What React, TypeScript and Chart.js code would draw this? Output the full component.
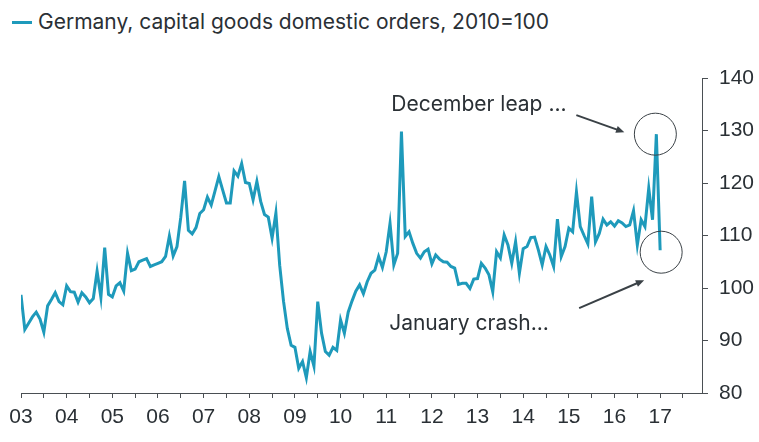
import React, { useEffect, useRef } from 'react';
import { Chart, registerables } from 'chart.js';

Chart.register(...registerables);

// Monthly values, Germany capital goods domestic orders (2010=100), Jan 2003 .. Jan 2017
const y2003 = [98.7, 92.1, 93.3, 94.5, 95.4, 94.1, 91.6, 96.6, 97.8, 99.1, 97.4, 96.8];
const y2004 = [100.4, 99.3, 99.2, 97.3, 99.1, 98.3, 97.2, 98.0, 103.2, 98.2, 107.7, 98.8];
const y2005 = [98.3, 100.4, 101.0, 99.4, 106.6, 103.3, 103.6, 105.0, 105.3, 105.6, 104.1, 104.4];
const y2006 = [104.7, 105.0, 106.0, 109.9, 106.1, 107.9, 113.5, 120.4, 111.0, 110.3, 111.5, 114.2];
const y2007 = [114.9, 117.3, 115.8, 118.5, 121.2, 118.7, 116.2, 116.2, 122.3, 121.3, 123.7, 120.1];
const y2008 = [119.9, 116.8, 120.3, 116.5, 114.0, 113.5, 109.5, 114.3, 104.3, 97.5, 92.3, 89.1];
const y2009 = [88.7, 84.7, 86.0, 82.9, 87.9, 85.1, 97.4, 91.4, 87.9, 87.2, 88.7, 88.1];
const y2010 = [93.9, 91.4, 95.4, 97.5, 99.4, 100.6, 98.9, 101.2, 102.8, 103.4, 106.0, 103.9];
const y2011 = [106.9, 112.3, 104.4, 106.6, 129.8, 109.8, 110.7, 108.5, 106.6, 105.7, 106.9, 107.4];
const y2012 = [104.6, 106.3, 105.5, 105.0, 104.9, 104.1, 103.8, 100.7, 100.9, 100.9, 99.9, 101.7];
const y2013 = [101.8, 104.7, 103.8, 102.5, 99.3, 106.9, 105.7, 110.1, 108.2, 104.7, 108.8, 102.8];
const y2014 = [107.5, 107.9, 109.6, 109.7, 107.2, 104.4, 107.9, 106.3, 104.1, 113.1, 106.0, 107.9];
const y2015 = [111.4, 110.7, 118.3, 111.7, 110.0, 108.4, 117.4, 108.8, 110.4, 113.1, 112.0, 112.6];
const y2016 = [111.8, 112.8, 112.4, 111.7, 112.0, 114.7, 108.2, 113.0, 111.7, 119.0, 113.0, 129.3];
const y2017 = [107.2];

const values = [
  ...y2003, ...y2004, ...y2005, ...y2006, ...y2007, ...y2008, ...y2009, ...y2010,
  ...y2011, ...y2012, ...y2013, ...y2014, ...y2015, ...y2016, ...y2017,
];

const yearLabels = ['03', '04', '05', '06', '07', '08', '09', '10', '11', '12', '13', '14', '15', '16', '17'];
const yTicks = [80, 90, 100, 110, 120, 130, 140];

const TITLE = 'Germany, capital goods domestic orders, 2010=100';
const LEAP = 'December leap ...';
const CRASH = 'January crash...';

const LINE = '#1e9abb';
const TEXT = '#2a3035';
const AXIS = '#4a4f53';
const TEXT_FONT = 'Inter, "Open Sans", sans-serif';
const TICK_FONT = 'Liberation Sans, Arial, sans-serif';

function arrow(ctx: CanvasRenderingContext2D, x1: number, y1: number, x2: number, y2: number) {
  const a = Math.atan2(y2 - y1, x2 - x1);
  const head = 9;
  ctx.beginPath();
  ctx.moveTo(x1, y1);
  ctx.lineTo(x2 - Math.cos(a) * 4, y2 - Math.sin(a) * 4);
  ctx.stroke();
  ctx.beginPath();
  ctx.moveTo(x2, y2);
  ctx.lineTo(x2 - head * Math.cos(a - 0.4), y2 - head * Math.sin(a - 0.4));
  ctx.lineTo(x2 - head * Math.cos(a + 0.4), y2 - head * Math.sin(a + 0.4));
  ctx.closePath();
  ctx.fill();
}

const annotatePlugin = {
  id: 'annotate',
  afterDatasetsDraw(chart: any) {
    const { ctx, scales } = chart;
    const x = scales.x;
    const y = scales.y;
    const n = values.length;
    const dx = x.getPixelForValue(n - 2);
    const dy = y.getPixelForValue(values[n - 2]);
    const jx = x.getPixelForValue(n - 1);
    const jy = y.getPixelForValue(values[n - 1]);
    ctx.save();
    ctx.strokeStyle = '#3a4146';
    ctx.fillStyle = '#3a4146';
    ctx.lineWidth = 1;
    ctx.beginPath();
    ctx.arc(dx - 1, dy, 21, 0, Math.PI * 2);
    ctx.stroke();
    ctx.beginPath();
    ctx.arc(jx + 1, jy + 2, 21, 0, Math.PI * 2);
    ctx.stroke();
    ctx.lineWidth = 2;
    arrow(ctx, dx - 80, dy - 19, dx - 32, dy - 2);
    arrow(ctx, jx - 81, jy + 58, jx - 16, jy + 30);
    ctx.fillStyle = TEXT;
    ctx.font = '21px ' + TEXT_FONT;
    ctx.textAlign = 'left';
    ctx.textBaseline = 'alphabetic';
    ctx.fillText(LEAP, dx - 265, dy - 23);
    ctx.fillText(CRASH, jx - 271, jy + 80);
    ctx.restore();
  },
};

export default function App() {
  const ref = useRef<HTMLCanvasElement | null>(null);

  useEffect(() => {
    if (!ref.current) return;
    const data = values.map((v, i) => ({ x: i, y: v }));
    const chart = new Chart(ref.current, {
      type: 'line',
      data: {
        datasets: [
          {
            label: TITLE,
            data,
            borderColor: LINE,
            backgroundColor: LINE,
            borderWidth: 3,
            pointRadius: 0,
            tension: 0,
            fill: false,
          },
        ],
      },
      options: {
        responsive: false,
        animation: false,
        devicePixelRatio: 1,
        layout: { padding: { left: 21, top: 78, right: 0, bottom: 0 } },
        plugins: {
          legend: { display: false },
          tooltip: { enabled: false },
          title: { display: false },
        },
        scales: {
          x: {
            type: 'linear',
            min: 0,
            max: 179,
            afterFit: (s: any) => { s.height = 49; },
            border: { display: true, color: AXIS, width: 1 },
            grid: { drawOnChartArea: false, drawTicks: true, tickLength: 5, color: AXIS },
            ticks: {
              stepSize: 6,
              autoSkip: false,
              maxRotation: 0,
              includeBounds: false,
              padding: 7,
              color: TEXT,
              font: { family: TICK_FONT, size: 21 },
              callback: (v: any) => {
                const n = Number(v);
                if (n % 12 !== 0) return '';
                return yearLabels[n / 12] ?? '';
              },
            },
          },
          y: {
            position: 'right',
            min: yTicks[0],
            max: yTicks[yTicks.length - 1],
            afterFit: (s: any) => { s.width = 57; },
            border: { display: true, color: AXIS, width: 1 },
            grid: { drawOnChartArea: false, drawTicks: true, tickLength: 6, color: AXIS },
            ticks: {
              stepSize: 10,
              padding: 11,
              color: TEXT,
              font: { family: TICK_FONT, size: 21 },
            },
          },
        },
      },
      plugins: [annotatePlugin],
    } as any);
    return () => chart.destroy();
  }, []);

  return (
    <div style={{ position: 'absolute', left: 0, top: 0, width: 759, height: 442, background: '#fff' }}>
      <div style={{ position: 'absolute', left: 12, top: 21, width: 20, height: 3, background: LINE }} />
      <div
        style={{
          position: 'absolute',
          left: 38,
          top: 9,
          fontFamily: TEXT_FONT,
          fontSize: 21,
          lineHeight: '26px',
          color: TEXT,
          whiteSpace: 'nowrap',
        }}
      >
        {TITLE}
      </div>
      <canvas ref={ref} width={759} height={442} style={{ position: 'absolute', left: 0, top: 0 }} />
    </div>
  );
}
